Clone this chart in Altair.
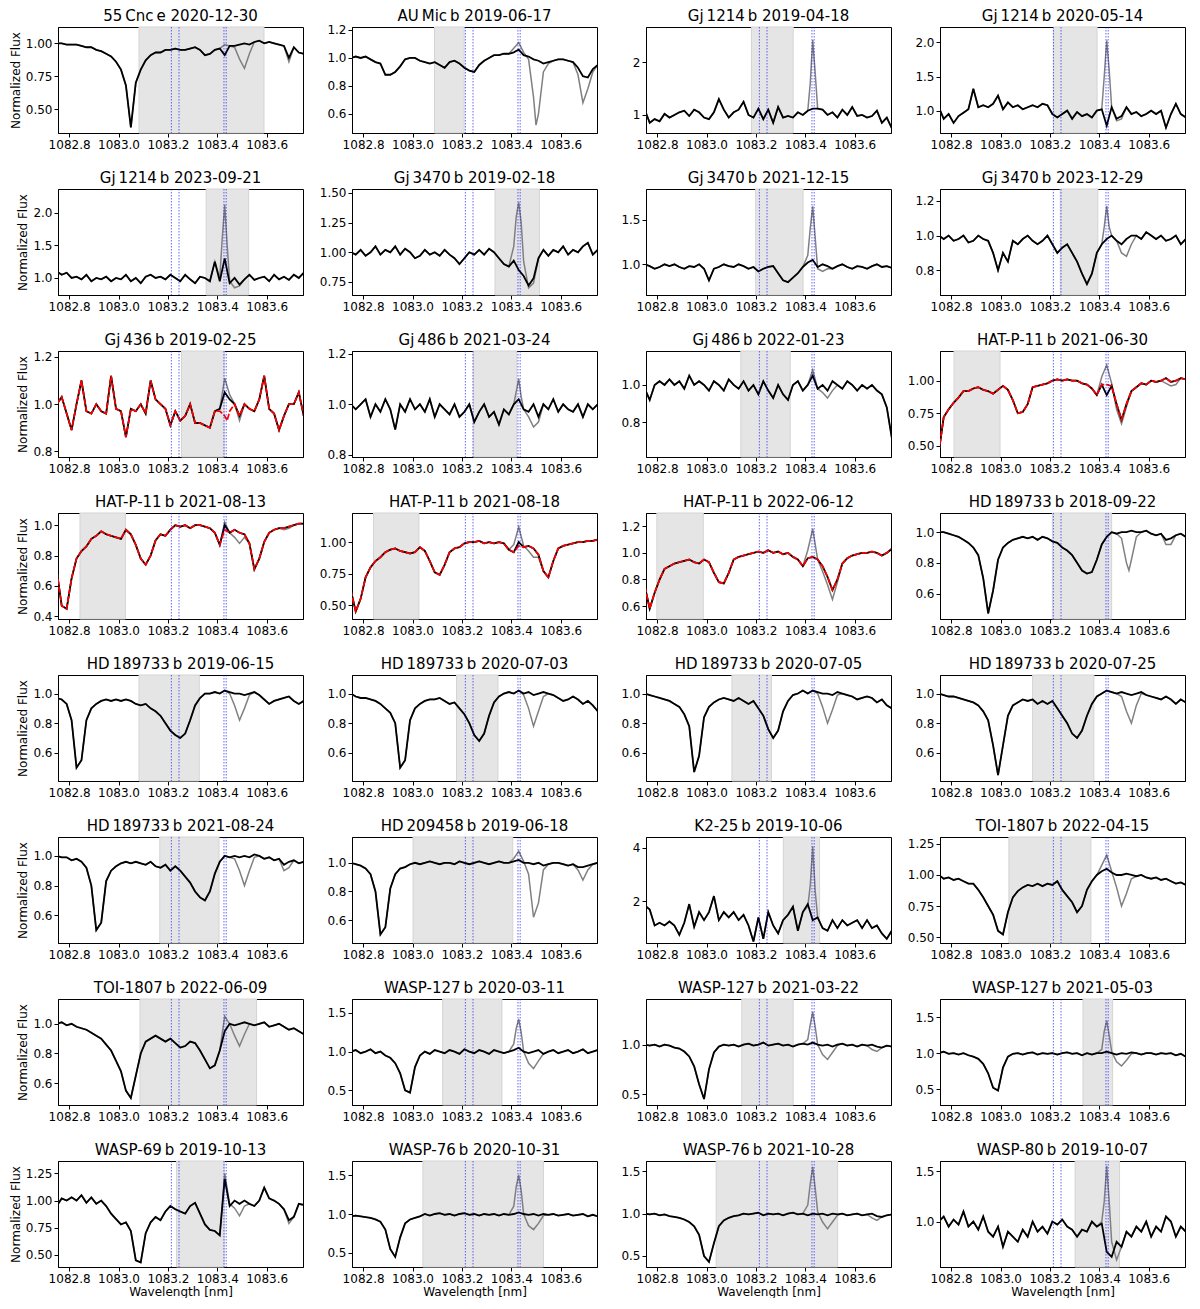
import altair as alt
import pandas as pd

WAVE = [1082.75, 1082.77, 1082.79, 1082.81, 1082.83, 1082.85, 1082.87, 1082.89, 1082.91, 1082.93,
        1082.95, 1082.97, 1082.99, 1083.01, 1083.03, 1083.05, 1083.07, 1083.09, 1083.11, 1083.13,
        1083.15, 1083.17, 1083.19, 1083.21, 1083.23, 1083.25, 1083.27, 1083.29, 1083.31, 1083.33,
        1083.35, 1083.37, 1083.39, 1083.41, 1083.43, 1083.45, 1083.47, 1083.49, 1083.51, 1083.53,
        1083.55, 1083.57, 1083.59, 1083.61, 1083.63, 1083.65, 1083.67, 1083.69, 1083.71, 1083.73,
        1083.75]

TS = "\u2009"
TITLES = [
    f"55{TS}Cnc{TS}e 2020-12-30", f"AU{TS}Mic{TS}b 2019-06-17", f"Gj{TS}1214{TS}b 2019-04-18", f"Gj{TS}1214{TS}b 2020-05-14",
    f"Gj{TS}1214{TS}b 2023-09-21", f"Gj{TS}3470{TS}b 2019-02-18", f"Gj{TS}3470{TS}b 2021-12-15", f"Gj{TS}3470{TS}b 2023-12-29",
    f"Gj{TS}436{TS}b 2019-02-25", f"Gj{TS}486{TS}b 2021-03-24", f"Gj{TS}486{TS}b 2022-01-23", f"HAT-P-11{TS}b 2021-06-30",
    f"HAT-P-11{TS}b 2021-08-13", f"HAT-P-11{TS}b 2021-08-18", f"HAT-P-11{TS}b 2022-06-12", f"HD{TS}189733{TS}b 2018-09-22",
    f"HD{TS}189733{TS}b 2019-06-15", f"HD{TS}189733{TS}b 2020-07-03", f"HD{TS}189733{TS}b 2020-07-05", f"HD{TS}189733{TS}b 2020-07-25",
    f"HD{TS}189733{TS}b 2021-08-24", f"HD{TS}209458{TS}b 2019-06-18", f"K2-25{TS}b 2019-10-06", f"TOI-1807{TS}b 2022-04-15",
    f"TOI-1807{TS}b 2022-06-09", f"WASP-127{TS}b 2020-03-11", f"WASP-127{TS}b 2021-03-22", f"WASP-127{TS}b 2021-05-03",
    f"WASP-69{TS}b 2019-10-13", f"WASP-76{TS}b 2020-10-31", f"WASP-76{TS}b 2021-10-28", f"WASP-80{TS}b 2019-10-07",
]

Y_DOMAINS = [
    [0.318, 1.124], [0.464, 1.221], [0.657, 2.67], [0.672, 2.227],
    [0.74, 2.36], [0.64, 1.533], [0.656, 1.844], [0.657, 1.269],
    [0.776, 1.225], [0.792, 1.21], [0.616, 1.181], [0.414, 1.228],
    [0.383, 1.08], [0.39, 1.231], [0.503, 1.30], [0.434, 1.125],
    [0.41, 1.125], [0.41, 1.125], [0.41, 1.125], [0.41, 1.125],
    [0.413, 1.127], [0.44, 1.18], [0.444, 4.41], [0.452, 1.306],
    [0.453, 1.167], [0.31, 1.68], [0.39, 1.46], [0.28, 1.75],
    [0.388, 1.365], [0.32, 1.68], [0.37, 1.62], [0.55, 1.60],
]

Y_TICKS = [
    [0.5, 0.75, 1.0], [0.6, 0.8, 1.0, 1.2], [1, 2], [1.0, 1.5, 2.0],
    [1.0, 1.5, 2.0], [0.75, 1.0, 1.25, 1.5], [1.0, 1.5], [0.8, 1.0, 1.2],
    [0.8, 1.0, 1.2], [0.8, 1.0, 1.2], [0.8, 1.0], [0.5, 0.75, 1.0],
    [0.4, 0.6, 0.8, 1.0], [0.5, 0.75, 1.0], [0.6, 0.8, 1.0, 1.2], [0.6, 0.8, 1.0],
    [0.6, 0.8, 1.0], [0.6, 0.8, 1.0], [0.6, 0.8, 1.0], [0.6, 0.8, 1.0],
    [0.6, 0.8, 1.0], [0.6, 0.8, 1.0], [2, 4], [0.5, 0.75, 1.0, 1.25],
    [0.6, 0.8, 1.0], [0.5, 1.0, 1.5], [0.5, 1.0], [0.5, 1.0, 1.5],
    [0.5, 0.75, 1.0, 1.25], [0.5, 1.0, 1.5], [0.5, 1.0, 1.5], [1.0, 1.5],
]

Y_FORMATS = [
    ".2f", ".1f", "d", ".1f",
    ".1f", ".2f", ".1f", ".1f",
    ".1f", ".1f", ".1f", ".2f",
    ".1f", ".2f", ".1f", ".1f",
    ".1f", ".1f", ".1f", ".1f",
    ".1f", ".1f", "d", ".2f",
    ".1f", ".1f", ".1f", ".1f",
    ".2f", ".1f", ".1f", ".1f",
]

SHADES = [
    [1083.083, 1083.589], [1083.089, 1083.209], [1083.182, 1083.351], [1083.215, 1083.391],
    [1083.355, 1083.527], [1083.334, 1083.514], [1083.199, 1083.391], [1083.242, 1083.394],
    [1083.255, 1083.428], [1083.246, 1083.422], [1083.139, 1083.339], [1082.812, 1082.998],
    [1082.844, 1083.028], [1082.842, 1083.026], [1082.799, 1082.987], [1083.21, 1083.45],
    [1083.083, 1083.327], [1083.178, 1083.346], [1083.103, 1083.263], [1083.13, 1083.378],
    [1083.167, 1083.407], [1083.002, 1083.406], [1083.311, 1083.458], [1083.034, 1083.366],
    [1083.087, 1083.559], [1083.122, 1083.362], [1083.143, 1083.351], [1083.334, 1083.454],
    [1083.235, 1083.428], [1083.042, 1083.53], [1083.039, 1083.531], [1083.302, 1083.482],
]

BLUE_LINES = [1083.214, 1083.245, 1083.427, 1083.436]

X_DOMAIN = [1082.755, 1083.747]
X_TICKS = [1082.8, 1083.0, 1083.2, 1083.4, 1083.6]

FLUX_01 = [1.00, 1.00, 0.99, 0.99, 0.99, 0.98, 0.97, 0.97, 0.95, 0.94, 0.92, 0.90, 0.86, 0.80, 0.68, 0.36, 0.70, 0.80, 0.87, 0.91,
           0.93, 0.93, 0.95, 0.95, 0.96, 0.95, 0.95, 0.96, 0.97, 0.95, 0.91, 0.92, 0.95, 0.96, 0.91, 0.98, 0.98, 0.99, 1.00, 0.99,
           1.01, 1.02, 1.00, 1.01, 1.00, 0.99, 0.98, 0.89, 0.97, 0.93, 0.92]
FLUX_02 = [1.00, 1.01, 1.00, 1.01, 0.99, 0.97, 0.96, 0.88, 0.88, 0.90, 0.94, 0.99, 1.00, 1.00, 0.98, 0.97, 0.96, 0.97, 0.95, 0.93,
           0.97, 0.98, 0.96, 0.93, 0.91, 0.90, 0.95, 0.98, 1.00, 1.02, 1.02, 1.03, 1.03, 1.04, 1.06, 1.02, 1.01, 0.99, 0.98, 0.96,
           0.97, 0.98, 0.99, 0.99, 0.98, 0.97, 0.93, 0.87, 0.86, 0.92, 0.95]
FLUX_03 = [1.10, 0.85, 0.92, 0.88, 1.02, 0.95, 1.00, 1.05, 1.08, 0.98, 1.10, 1.05, 0.95, 0.92, 1.05, 1.30, 1.10, 0.95, 1.05, 1.10,
           1.25, 1.00, 0.95, 1.12, 0.92, 1.10, 0.85, 1.15, 0.95, 0.98, 0.95, 1.05, 1.00, 1.08, 1.12, 1.12, 1.10, 1.00, 1.05, 0.95,
           1.10, 1.00, 1.15, 0.98, 1.00, 0.95, 0.98, 1.08, 0.85, 0.95, 0.75]
FLUX_04 = [1.05, 0.88, 0.95, 0.82, 0.92, 0.97, 1.02, 1.32, 1.05, 1.08, 1.05, 1.10, 1.22, 1.02, 1.12, 1.05, 1.08, 1.02, 1.05, 1.08,
           1.05, 1.10, 1.08, 0.95, 0.90, 0.95, 1.00, 0.88, 0.98, 0.92, 0.95, 0.90, 1.00, 1.02, 0.78, 1.05, 0.88, 0.92, 1.05, 0.95,
           0.98, 0.92, 0.95, 1.00, 0.95, 1.00, 0.75, 0.95, 1.10, 0.95, 0.90]
FLUX_05 = [1.10, 1.05, 1.08, 1.00, 1.02, 0.98, 1.05, 0.95, 1.00, 0.98, 1.02, 0.95, 1.00, 0.98, 1.05, 0.95, 1.00, 0.92, 1.02, 1.05,
           1.00, 1.02, 0.98, 1.05, 1.00, 0.95, 1.05, 0.98, 0.92, 1.02, 1.00, 0.95, 1.25, 0.95, 1.30, 0.92, 1.00, 0.90, 0.98, 1.05,
           0.97, 1.00, 1.02, 0.95, 1.05, 0.98, 1.02, 0.97, 1.05, 1.00, 1.08]
FLUX_06 = [1.00, 0.98, 1.02, 0.97, 1.00, 1.05, 0.98, 1.02, 1.00, 1.05, 0.98, 1.03, 1.00, 0.95, 0.97, 1.02, 0.98, 1.00, 0.97, 1.02,
           0.98, 0.95, 0.90, 0.95, 1.00, 0.98, 1.02, 0.98, 1.03, 1.00, 0.95, 0.90, 0.88, 0.93, 0.85, 0.80, 0.72, 0.78, 0.95, 1.02,
           0.97, 1.02, 1.00, 1.05, 0.98, 1.02, 1.00, 1.05, 1.08, 0.98, 1.02]
FLUX_07 = [1.00, 0.98, 0.95, 0.97, 1.00, 0.98, 1.00, 0.97, 0.95, 0.98, 0.97, 1.00, 0.95, 0.82, 0.95, 0.97, 1.00, 0.98, 0.97, 1.00,
           0.98, 0.95, 0.97, 0.92, 0.95, 0.97, 0.98, 0.90, 0.82, 0.80, 0.85, 0.90, 0.97, 1.02, 1.05, 0.97, 1.00, 0.98, 0.95, 0.98,
           1.00, 0.97, 0.95, 0.98, 0.97, 0.95, 0.98, 1.00, 0.97, 0.98, 0.96]
FLUX_08 = [1.00, 0.98, 1.00, 0.97, 0.98, 1.00, 0.96, 0.97, 1.00, 0.98, 0.97, 0.90, 0.80, 0.90, 0.85, 0.97, 0.95, 0.98, 1.00, 0.97,
           0.95, 0.97, 1.00, 0.95, 0.90, 0.93, 0.95, 0.90, 0.85, 0.78, 0.72, 0.78, 0.90, 0.95, 0.98, 1.00, 0.97, 0.95, 0.98, 1.00,
           1.00, 0.98, 1.02, 1.00, 0.98, 1.00, 0.97, 0.98, 1.00, 0.95, 0.98]
FLUX_09 = [1.00, 1.03, 0.96, 0.89, 1.00, 1.10, 0.97, 0.96, 1.00, 0.97, 0.96, 1.12, 0.98, 0.97, 0.86, 0.98, 0.97, 1.00, 0.96, 1.10,
           1.02, 1.00, 0.98, 0.91, 0.97, 0.93, 0.95, 1.00, 0.92, 0.92, 0.91, 0.90, 0.97, 0.98, 1.05, 1.02, 1.00, 0.95, 1.00, 0.98,
           0.97, 1.02, 1.12, 0.98, 0.96, 0.89, 0.95, 1.00, 1.00, 1.05, 0.95]
FLUX_10 = [1.00, 0.98, 1.00, 1.02, 0.95, 1.00, 0.97, 1.02, 0.98, 0.90, 1.00, 0.97, 1.02, 0.98, 1.00, 0.97, 1.02, 0.95, 1.00, 0.98,
           0.96, 1.00, 0.95, 0.97, 1.00, 0.93, 0.97, 1.00, 0.95, 0.97, 0.92, 0.98, 0.96, 1.00, 1.02, 0.98, 0.97, 1.00, 0.95, 1.00,
           0.98, 1.02, 0.97, 1.00, 0.98, 0.97, 1.00, 0.95, 1.00, 0.98, 1.00]
FLUX_11 = [0.98, 0.92, 1.00, 1.02, 1.00, 1.03, 1.00, 1.02, 0.98, 1.05, 1.00, 1.02, 1.00, 0.97, 1.02, 1.00, 0.97, 1.03, 1.00, 0.98,
           1.02, 0.97, 1.00, 0.95, 1.02, 0.97, 0.93, 1.00, 0.95, 0.92, 1.00, 1.02, 0.97, 1.00, 1.05, 0.98, 1.00, 0.97, 1.02, 1.00,
           0.98, 1.02, 1.00, 0.97, 1.00, 0.98, 1.00, 0.97, 0.95, 0.88, 0.72]
FLUX_12 = [0.45, 0.72, 0.78, 0.83, 0.87, 0.92, 0.92, 0.94, 0.95, 0.93, 0.92, 0.90, 0.93, 0.96, 0.93, 0.85, 0.75, 0.76, 0.82, 0.95,
           0.96, 0.97, 0.98, 1.00, 1.01, 1.00, 1.01, 1.00, 1.00, 0.98, 0.97, 0.94, 0.89, 0.97, 0.89, 0.96, 0.82, 0.70, 0.82, 0.92,
           0.95, 0.98, 0.97, 1.00, 0.99, 1.00, 1.02, 0.99, 1.00, 1.02, 1.01]
FLUX_13 = [0.70, 0.47, 0.45, 0.65, 0.78, 0.83, 0.86, 0.91, 0.93, 0.96, 0.94, 0.93, 0.92, 0.91, 0.97, 0.94, 0.87, 0.78, 0.74, 0.80,
           0.90, 0.94, 0.93, 0.97, 1.00, 0.99, 1.00, 0.98, 1.00, 1.00, 0.99, 0.98, 0.95, 0.87, 1.00, 0.95, 0.97, 0.95, 0.94, 0.88,
           0.71, 0.78, 0.89, 0.95, 0.97, 0.98, 0.98, 0.99, 1.00, 1.01, 1.01]
FLUX_14 = [0.62, 0.45, 0.55, 0.72, 0.80, 0.85, 0.88, 0.92, 0.94, 0.95, 0.93, 0.92, 0.91, 0.92, 0.96, 0.93, 0.85, 0.76, 0.74, 0.82,
           0.92, 0.95, 0.96, 0.99, 1.00, 1.00, 1.01, 0.99, 1.00, 0.99, 1.00, 0.99, 0.94, 0.92, 1.00, 0.96, 0.97, 0.95, 0.90, 0.77,
           0.72, 0.85, 0.95, 0.97, 0.98, 0.99, 1.00, 1.00, 1.01, 1.01, 1.02]
FLUX_15 = [0.75, 0.58, 0.70, 0.80, 0.88, 0.90, 0.92, 0.93, 0.94, 0.95, 0.93, 0.92, 0.95, 0.93, 0.85, 0.78, 0.77, 0.85, 0.95, 0.97,
           0.98, 0.99, 1.00, 1.01, 1.00, 1.02, 1.00, 1.01, 0.99, 1.00, 0.97, 0.95, 0.90, 0.96, 0.97, 0.95, 0.90, 0.82, 0.72, 0.80,
           0.92, 0.96, 0.98, 0.99, 1.00, 1.00, 1.01, 1.00, 0.98, 1.00, 1.03]
FLUX_16 = [1.00, 1.00, 0.99, 0.98, 0.97, 0.95, 0.93, 0.90, 0.85, 0.70, 0.47, 0.62, 0.82, 0.90, 0.93, 0.95, 0.96, 0.97, 0.96, 0.97,
           0.95, 0.97, 0.96, 0.94, 0.93, 0.90, 0.88, 0.85, 0.80, 0.75, 0.73, 0.74, 0.82, 0.92, 0.97, 1.00, 0.99, 1.00, 1.00, 1.01,
           1.00, 1.00, 1.01, 0.99, 0.98, 0.99, 0.95, 0.96, 0.98, 0.99, 0.97]
FLUX_17 = [0.97, 0.96, 0.93, 0.82, 0.50, 0.55, 0.82, 0.90, 0.93, 0.95, 0.96, 0.95, 0.96, 0.95, 0.96, 0.95, 0.93, 0.92, 0.93, 0.90,
           0.88, 0.85, 0.80, 0.75, 0.72, 0.70, 0.73, 0.82, 0.92, 0.97, 1.00, 1.00, 1.01, 1.00, 1.02, 1.01, 1.00, 1.00, 0.99, 1.00,
           1.01, 0.99, 0.96, 0.93, 0.95, 0.96, 0.97, 0.98, 0.95, 0.93, 0.95]
FLUX_18 = [1.00, 0.98, 0.97, 0.97, 0.96, 0.95, 0.93, 0.90, 0.87, 0.80, 0.50, 0.55, 0.82, 0.90, 0.93, 0.95, 0.96, 0.96, 0.97, 0.95,
           0.93, 0.94, 0.90, 0.86, 0.80, 0.72, 0.68, 0.73, 0.85, 0.94, 0.98, 1.00, 1.01, 1.00, 1.02, 1.00, 1.01, 0.99, 1.00, 1.01,
           1.00, 0.99, 0.97, 0.95, 0.96, 0.98, 0.96, 0.93, 0.95, 0.92, 0.88]
FLUX_19 = [1.00, 0.99, 0.98, 0.97, 0.96, 0.95, 0.93, 0.91, 0.86, 0.78, 0.47, 0.58, 0.84, 0.91, 0.94, 0.96, 0.97, 0.96, 0.95, 0.97,
           0.95, 0.93, 0.95, 0.90, 0.85, 0.76, 0.70, 0.75, 0.88, 0.95, 0.99, 1.00, 1.02, 1.00, 1.02, 1.01, 1.00, 1.00, 0.99, 1.01,
           1.00, 0.99, 0.98, 0.96, 0.97, 0.98, 0.97, 0.94, 0.96, 0.92, 0.90]
FLUX_20 = [1.00, 0.99, 0.98, 0.98, 0.97, 0.96, 0.95, 0.94, 0.92, 0.88, 0.82, 0.65, 0.45, 0.65, 0.85, 0.92, 0.94, 0.96, 0.95, 0.96,
           0.93, 0.95, 0.93, 0.95, 0.90, 0.85, 0.80, 0.73, 0.70, 0.75, 0.85, 0.93, 0.98, 1.00, 1.02, 1.01, 1.00, 1.01, 1.00, 0.99,
           1.00, 1.01, 0.99, 0.98, 0.97, 0.96, 0.98, 0.96, 0.93, 0.96, 0.94]
FLUX_21 = [1.00, 0.99, 0.99, 0.97, 0.98, 0.96, 0.92, 0.80, 0.50, 0.55, 0.83, 0.90, 0.93, 0.95, 0.96, 0.95, 0.96, 0.95, 0.94, 0.96,
           0.93, 0.92, 0.94, 0.90, 0.93, 0.90, 0.86, 0.82, 0.76, 0.72, 0.70, 0.76, 0.88, 0.96, 1.00, 0.99, 1.00, 0.99, 1.00, 0.99,
           1.01, 1.00, 0.98, 0.99, 0.97, 0.98, 0.94, 0.96, 0.97, 0.95, 0.96]
FLUX_22 = [1.00, 0.99, 0.98, 0.96, 0.92, 0.80, 0.50, 0.55, 0.82, 0.92, 0.96, 0.97, 0.99, 1.00, 0.99, 1.00, 1.01, 1.00, 0.99, 1.00,
           1.00, 0.99, 1.01, 1.00, 0.99, 1.00, 1.01, 1.00, 0.99, 1.00, 1.01, 1.00, 1.00, 1.01, 1.02, 1.00, 1.00, 0.99, 1.00, 0.98,
           0.99, 1.00, 1.00, 0.99, 0.98, 0.99, 0.97, 0.97, 0.98, 0.99, 1.00]
FLUX_23 = [1.85, 1.70, 1.10, 1.20, 1.10, 1.25, 1.10, 0.75, 1.20, 1.90, 1.05, 1.60, 1.30, 1.60, 2.20, 1.30, 1.60, 1.40, 1.60, 1.30,
           1.50, 1.10, 0.50, 1.40, 0.60, 1.60, 1.10, 0.80, 1.30, 1.50, 1.80, 0.90, 1.60, 1.90, 1.30, 1.40, 1.00, 0.90, 1.30, 1.00,
           1.30, 1.10, 1.20, 1.30, 1.00, 1.30, 1.00, 1.10, 0.80, 0.60, 0.90]
FLUX_24 = [1.00, 0.97, 0.98, 0.96, 0.97, 0.95, 0.93, 0.93, 0.88, 0.82, 0.75, 0.68, 0.55, 0.52, 0.70, 0.82, 0.87, 0.90, 0.92, 0.91,
           0.93, 0.91, 0.93, 0.92, 0.95, 0.88, 0.83, 0.78, 0.70, 0.75, 0.88, 0.95, 1.00, 1.03, 1.05, 1.02, 1.00, 1.00, 1.01, 1.00,
           0.99, 1.00, 0.98, 0.97, 0.98, 0.96, 0.97, 0.95, 0.93, 0.94, 0.92]
FLUX_25 = [1.00, 1.01, 0.99, 1.00, 0.98, 0.97, 0.96, 0.94, 0.92, 0.90, 0.86, 0.82, 0.75, 0.68, 0.55, 0.50, 0.65, 0.80, 0.88, 0.90,
           0.92, 0.90, 0.88, 0.90, 0.87, 0.84, 0.85, 0.88, 0.87, 0.82, 0.76, 0.70, 0.72, 0.82, 0.95, 1.00, 0.99, 1.00, 1.01, 1.00,
           0.99, 1.00, 1.01, 0.98, 0.99, 1.00, 0.98, 0.96, 0.97, 0.95, 0.93]
FLUX_26 = [1.00, 1.02, 0.98, 1.00, 1.03, 0.98, 1.00, 0.95, 0.92, 0.85, 0.72, 0.50, 0.47, 0.80, 0.95, 1.00, 0.97, 1.02, 1.00, 0.98,
           1.02, 1.00, 0.97, 1.03, 1.00, 0.98, 1.02, 1.00, 0.97, 1.02, 1.00, 0.98, 1.00, 1.02, 1.05, 1.00, 0.98, 1.00, 1.02, 0.97,
           1.00, 1.02, 0.98, 1.00, 1.02, 0.98, 1.00, 1.03, 0.98, 1.00, 1.02]
FLUX_27 = [1.00, 0.99, 1.00, 0.98, 1.00, 0.99, 0.97, 0.96, 0.93, 0.88, 0.78, 0.60, 0.45, 0.75, 0.92, 0.98, 1.00, 0.99, 1.00, 0.98,
           1.00, 1.01, 0.99, 1.00, 1.02, 0.99, 1.00, 1.01, 0.99, 1.00, 0.98, 1.00, 1.01, 1.00, 1.02, 1.00, 0.99, 1.00, 0.98, 1.00,
           1.01, 0.99, 1.00, 0.98, 1.00, 0.99, 1.00, 0.98, 0.97, 0.99, 0.98]
FLUX_28 = [1.00, 1.02, 0.99, 1.00, 0.98, 1.00, 0.97, 0.95, 0.92, 0.85, 0.72, 0.52, 0.48, 0.80, 0.95, 0.99, 1.00, 0.98, 1.00, 1.01,
           0.98, 1.00, 0.99, 1.00, 0.98, 1.00, 1.01, 0.99, 1.00, 0.97, 1.00, 0.98, 1.00, 1.00, 1.02, 1.00, 0.98, 1.00, 0.99, 1.01,
           1.00, 0.98, 1.00, 1.00, 0.98, 1.00, 0.99, 1.00, 0.97, 0.99, 0.95]
FLUX_29 = [0.95, 1.02, 1.00, 1.03, 1.00, 1.05, 0.98, 1.03, 0.97, 1.00, 0.95, 0.88, 0.83, 0.78, 0.80, 0.72, 0.45, 0.43, 0.70, 0.80,
           0.85, 0.82, 0.90, 0.95, 0.92, 0.90, 0.88, 0.95, 0.98, 0.88, 0.78, 0.73, 0.72, 0.68, 1.20, 0.95, 1.00, 0.97, 1.00, 0.97,
           0.95, 1.00, 1.12, 1.02, 1.00, 0.97, 0.92, 0.82, 0.85, 0.97, 0.96]
FLUX_30 = [0.97, 0.98, 0.97, 0.96, 0.95, 0.93, 0.90, 0.80, 0.55, 0.45, 0.70, 0.88, 0.93, 0.95, 0.97, 1.00, 0.98, 1.00, 1.01, 0.99,
           1.00, 0.98, 1.00, 1.01, 0.99, 1.00, 0.98, 1.00, 0.99, 1.00, 0.98, 1.00, 0.99, 1.00, 1.02, 1.00, 0.99, 1.00, 0.98, 1.00,
           0.99, 1.00, 0.98, 0.99, 1.00, 0.98, 0.99, 1.00, 0.97, 0.99, 0.97]
FLUX_31 = [1.00, 0.99, 1.00, 0.98, 0.99, 0.97, 0.96, 0.95, 0.93, 0.90, 0.85, 0.75, 0.50, 0.43, 0.65, 0.85, 0.92, 0.95, 0.97, 0.98,
           1.00, 0.99, 1.00, 1.01, 0.98, 1.00, 0.99, 1.00, 0.98, 1.00, 1.01, 0.99, 1.00, 0.98, 1.00, 0.99, 1.00, 0.98, 1.00, 0.99,
           1.00, 0.98, 0.99, 1.00, 0.98, 0.99, 1.00, 0.97, 0.96, 0.98, 0.99]
FLUX_32 = [1.00, 1.05, 0.95, 1.02, 0.97, 1.10, 0.95, 1.00, 0.92, 1.05, 0.90, 0.85, 0.95, 0.75, 0.90, 0.85, 0.80, 0.92, 0.85, 1.00,
           0.90, 0.95, 0.88, 1.00, 0.97, 1.02, 0.95, 0.92, 0.85, 0.92, 0.90, 1.00, 0.95, 0.98, 0.70, 0.65, 0.80, 0.75, 0.90, 0.85,
           0.95, 0.90, 1.00, 0.85, 0.95, 0.90, 1.05, 1.00, 0.85, 0.95, 0.90]

# uncorrected (grey) spectrum: points where it departs from the corrected one
GRAY_01 = [(1083.41, 0.96), (1083.43, 0.99), (1083.45, 0.98), (1083.47, 0.97), (1083.49, 0.88), (1083.51, 0.81), (1083.53, 0.92), (1083.55, 1.01), (1083.69, 0.86)]
GRAY_02 = [(1083.41, 1.07), (1083.43, 1.11), (1083.45, 1.04), (1083.47, 0.99), (1083.49, 0.72), (1083.50, 0.52), (1083.51, 0.60), (1083.53, 0.90), (1083.55, 0.96), (1083.67, 0.88), (1083.69, 0.68), (1083.71, 0.78), (1083.73, 0.90)]
GRAY_03 = [(1083.41, 1.08), (1083.42, 1.60), (1083.43, 2.42), (1083.44, 1.80), (1083.45, 1.12)]
GRAY_04 = [(1083.41, 1.02), (1083.42, 1.50), (1083.43, 2.03), (1083.44, 1.60), (1083.45, 1.05), (1083.47, 0.85), (1083.49, 0.88)]
GRAY_05 = [(1083.41, 1.00), (1083.42, 1.60), (1083.43, 2.12), (1083.44, 1.50), (1083.45, 0.95), (1083.47, 0.85), (1083.49, 0.88)]
GRAY_06 = [(1083.41, 1.05), (1083.42, 1.30), (1083.43, 1.42), (1083.44, 1.25), (1083.45, 0.92), (1083.47, 0.70), (1083.49, 0.74)]
GRAY_07 = [(1083.41, 1.10), (1083.42, 1.40), (1083.43, 1.65), (1083.44, 1.30), (1083.45, 0.95), (1083.47, 0.92), (1083.49, 0.95)]
GRAY_08 = [(1083.42, 1.05), (1083.43, 1.17), (1083.44, 1.05), (1083.49, 0.90), (1083.51, 0.88), (1083.53, 0.95)]
GRAY_09 = [(1083.43, 1.11), (1083.45, 1.04), (1083.49, 0.93)]
GRAY_10 = [(1083.42, 1.05), (1083.43, 1.10), (1083.44, 1.03), (1083.47, 0.95), (1083.49, 0.91), (1083.51, 0.93)]
GRAY_11 = [(1083.43, 1.08), (1083.47, 0.96), (1083.49, 0.93), (1083.51, 0.97)]
GRAY_12 = [(1083.41, 1.03), (1083.43, 1.12), (1083.45, 0.98), (1083.47, 0.78), (1083.49, 0.67), (1083.51, 0.80), (1083.67, 0.98), (1083.69, 0.96), (1083.71, 0.97)]
GRAY_13 = [(1083.43, 1.02), (1083.47, 0.92), (1083.49, 0.88), (1083.51, 0.92), (1083.67, 0.97), (1083.69, 0.98)]
GRAY_14 = [(1083.41, 0.98), (1083.43, 1.12), (1083.45, 0.97), (1083.47, 0.93), (1083.49, 0.88), (1083.51, 0.88)]
GRAY_15 = [(1083.41, 1.02), (1083.43, 1.18), (1083.45, 0.95), (1083.47, 0.86), (1083.49, 0.76), (1083.51, 0.65), (1083.53, 0.78)]
GRAY_16 = [(1083.49, 0.96), (1083.51, 0.80), (1083.52, 0.75), (1083.53, 0.82), (1083.55, 0.97), (1083.67, 0.92), (1083.69, 0.92)]
GRAY_17 = [(1083.45, 1.00), (1083.47, 0.92), (1083.49, 0.82), (1083.51, 0.90), (1083.53, 0.99)]
GRAY_18 = [(1083.45, 0.99), (1083.47, 0.90), (1083.49, 0.78), (1083.51, 0.88), (1083.53, 0.98)]
GRAY_19 = [(1083.45, 1.00), (1083.47, 0.91), (1083.49, 0.80), (1083.51, 0.89), (1083.53, 0.99)]
GRAY_20 = [(1083.49, 0.98), (1083.51, 0.88), (1083.53, 0.80), (1083.55, 0.92), (1083.57, 1.00)]
GRAY_21 = [(1083.47, 0.98), (1083.49, 0.90), (1083.51, 0.80), (1083.53, 0.90), (1083.55, 0.99), (1083.67, 0.90), (1083.69, 0.92)]
GRAY_22 = [(1083.41, 1.03), (1083.43, 1.08), (1083.45, 1.01), (1083.47, 0.92), (1083.49, 0.62), (1083.51, 0.72), (1083.53, 0.95), (1083.67, 0.95), (1083.69, 0.88), (1083.71, 0.95)]
GRAY_23 = [(1083.41, 1.80), (1083.42, 2.60), (1083.43, 4.05), (1083.44, 2.40), (1083.45, 1.40)]
GRAY_24 = [(1083.41, 1.08), (1083.43, 1.16), (1083.45, 1.03), (1083.47, 0.90), (1083.49, 0.75), (1083.51, 0.85), (1083.53, 0.97)]
GRAY_25 = [(1083.43, 1.05), (1083.45, 1.00), (1083.47, 0.92), (1083.49, 0.85), (1083.51, 0.93)]
GRAY_26 = [(1083.41, 1.10), (1083.42, 1.30), (1083.43, 1.42), (1083.44, 1.25), (1083.45, 1.00), (1083.47, 0.85), (1083.49, 0.78), (1083.51, 0.88), (1083.53, 0.97)]
GRAY_27 = [(1083.41, 1.05), (1083.42, 1.20), (1083.43, 1.33), (1083.44, 1.18), (1083.45, 1.00), (1083.47, 0.90), (1083.49, 0.85), (1083.51, 0.92), (1083.53, 0.99), (1083.67, 0.95), (1083.69, 0.93)]
GRAY_28 = [(1083.41, 1.05), (1083.42, 1.30), (1083.43, 1.45), (1083.44, 1.25), (1083.45, 1.02), (1083.47, 0.88), (1083.49, 0.82), (1083.51, 0.90), (1083.53, 0.99)]
GRAY_29 = [(1083.43, 1.25), (1083.45, 0.97), (1083.47, 0.93), (1083.49, 0.86), (1083.51, 0.95), (1083.69, 0.79)]
GRAY_30 = [(1083.41, 1.10), (1083.42, 1.35), (1083.43, 1.50), (1083.44, 1.30), (1083.45, 1.00), (1083.47, 0.85), (1083.49, 0.80), (1083.51, 0.88), (1083.53, 0.98)]
GRAY_31 = [(1083.41, 1.10), (1083.42, 1.35), (1083.43, 1.55), (1083.44, 1.30), (1083.45, 1.02), (1083.47, 0.90), (1083.49, 0.82), (1083.51, 0.90), (1083.53, 0.98), (1083.67, 0.95), (1083.69, 0.92)]
GRAY_32 = [(1083.41, 1.00), (1083.42, 1.20), (1083.43, 1.55), (1083.44, 1.20), (1083.45, 0.80), (1083.47, 0.62)]

# red (alternative correction) spectrum: departures from the black one
RED_09 = [(1083.41, 0.97), (1083.43, 0.95), (1083.44, 0.93), (1083.45, 0.97)]
RED_12 = [(1083.43, 0.97)]
RED_13 = [(1083.43, 0.97)]
RED_14 = [(1083.43, 0.97)]
RED_15 = []

FLUXES = [FLUX_01, FLUX_02, FLUX_03, FLUX_04, FLUX_05, FLUX_06, FLUX_07, FLUX_08,
          FLUX_09, FLUX_10, FLUX_11, FLUX_12, FLUX_13, FLUX_14, FLUX_15, FLUX_16,
          FLUX_17, FLUX_18, FLUX_19, FLUX_20, FLUX_21, FLUX_22, FLUX_23, FLUX_24,
          FLUX_25, FLUX_26, FLUX_27, FLUX_28, FLUX_29, FLUX_30, FLUX_31, FLUX_32]
GRAYS = [GRAY_01, GRAY_02, GRAY_03, GRAY_04, GRAY_05, GRAY_06, GRAY_07, GRAY_08,
         GRAY_09, GRAY_10, GRAY_11, GRAY_12, GRAY_13, GRAY_14, GRAY_15, GRAY_16,
         GRAY_17, GRAY_18, GRAY_19, GRAY_20, GRAY_21, GRAY_22, GRAY_23, GRAY_24,
         GRAY_25, GRAY_26, GRAY_27, GRAY_28, GRAY_29, GRAY_30, GRAY_31, GRAY_32]
REDS = {8: RED_09, 11: RED_12, 12: RED_13, 13: RED_14, 14: RED_15}

FONT = "DejaVu Sans"
PW, PH = 245, 106


def merged(base, overrides):
    pts = {round(x, 4): y for x, y in zip(WAVE, base)}
    for x, y in overrides:
        pts[round(x, 4)] = y
    xs = sorted(pts)
    return pd.DataFrame({"x": xs, "y": [pts[x] for x in xs]})


def panel(k):
    row, col = divmod(k, 4)
    xscale = alt.Scale(domain=X_DOMAIN, nice=False, zero=False)
    yscale = alt.Scale(domain=Y_DOMAINS[k], nice=False, zero=False)
    if row == 7:
        xaxis = alt.Axis(values=X_TICKS, format=".1f", title="Wavelength [nm]")
    else:
        xaxis = alt.Axis(values=X_TICKS, format=".1f", title=None)
    if col == 0:
        yaxis = alt.Axis(values=Y_TICKS[k], format=Y_FORMATS[k], title="Normalized Flux")
    else:
        yaxis = alt.Axis(values=Y_TICKS[k], format=Y_FORMATS[k], title=None)

    def xenc(field):
        return alt.X(field, type="quantitative", scale=xscale, axis=xaxis)

    yenc = alt.Y("y:Q", scale=yscale, axis=yaxis)

    shade_df = pd.DataFrame({"x": [SHADES[k][0]], "x2": [SHADES[k][1]]})
    shade = alt.Chart(shade_df).mark_rect(color="#e5e5e5", stroke="#d4d4d4", strokeWidth=1).encode(
        x=xenc("x"), x2="x2:Q")

    black_df = merged(FLUXES[k], [])
    gray_df = merged(FLUXES[k], GRAYS[k])
    gray = alt.Chart(gray_df).mark_line(color="#808080", strokeWidth=1.5, clip=True).encode(x=xenc("x"), y=yenc)
    black = alt.Chart(black_df).mark_line(color="black", strokeWidth=1.8, clip=True).encode(x=xenc("x"), y=yenc)
    layers = [shade, gray, black]
    if k in REDS:
        red_df = merged(FLUXES[k], REDS[k])
        red = alt.Chart(red_df).mark_line(color="#ff0000", strokeWidth=1.7, strokeDash=[6, 2], clip=True).encode(
            x=xenc("x"), y=yenc)
        layers.append(red)
    blue_df = pd.DataFrame({"x": BLUE_LINES})
    blue = alt.Chart(blue_df).mark_rule(color="#0000ff", strokeWidth=1, strokeDash=[1.5, 1.5], opacity=0.6).encode(
        x=xenc("x"))
    layers.append(blue)
    title_df = pd.DataFrame({"t": [TITLES[k]]})
    title = alt.Chart(title_df).mark_text(font=FONT, fontSize=15, color="black", align="center",
                                          baseline="alphabetic").encode(
        text="t:N", x=alt.value(PW / 2), y=alt.value(-6))
    layers.append(title)

    return alt.layer(*layers).properties(width=PW, height=PH)


panels = [panel(k) for k in range(32)]
chart = alt.concat(*panels, columns=4, spacing={"row": 56, "column": 49}, bounds="flush").configure_view(
    stroke="black", strokeWidth=1
).configure_axis(
    grid=False, domainColor="black", tickColor="black", tickSize=4, tickWidth=1,
    labelFontSize=12, labelFont=FONT, labelColor="black", labelPadding=2,
    titleFont=FONT, titleFontSize=12, titleFontWeight="normal", titleColor="black",
).configure_axisX(titlePadding=2).configure_axisY(titlePadding=3).properties(
    background="white", padding={"left": 0, "top": 0, "right": 0, "bottom": 0})

chart.save("out.html", embed_options={"renderer": "svg", "actions": False})
